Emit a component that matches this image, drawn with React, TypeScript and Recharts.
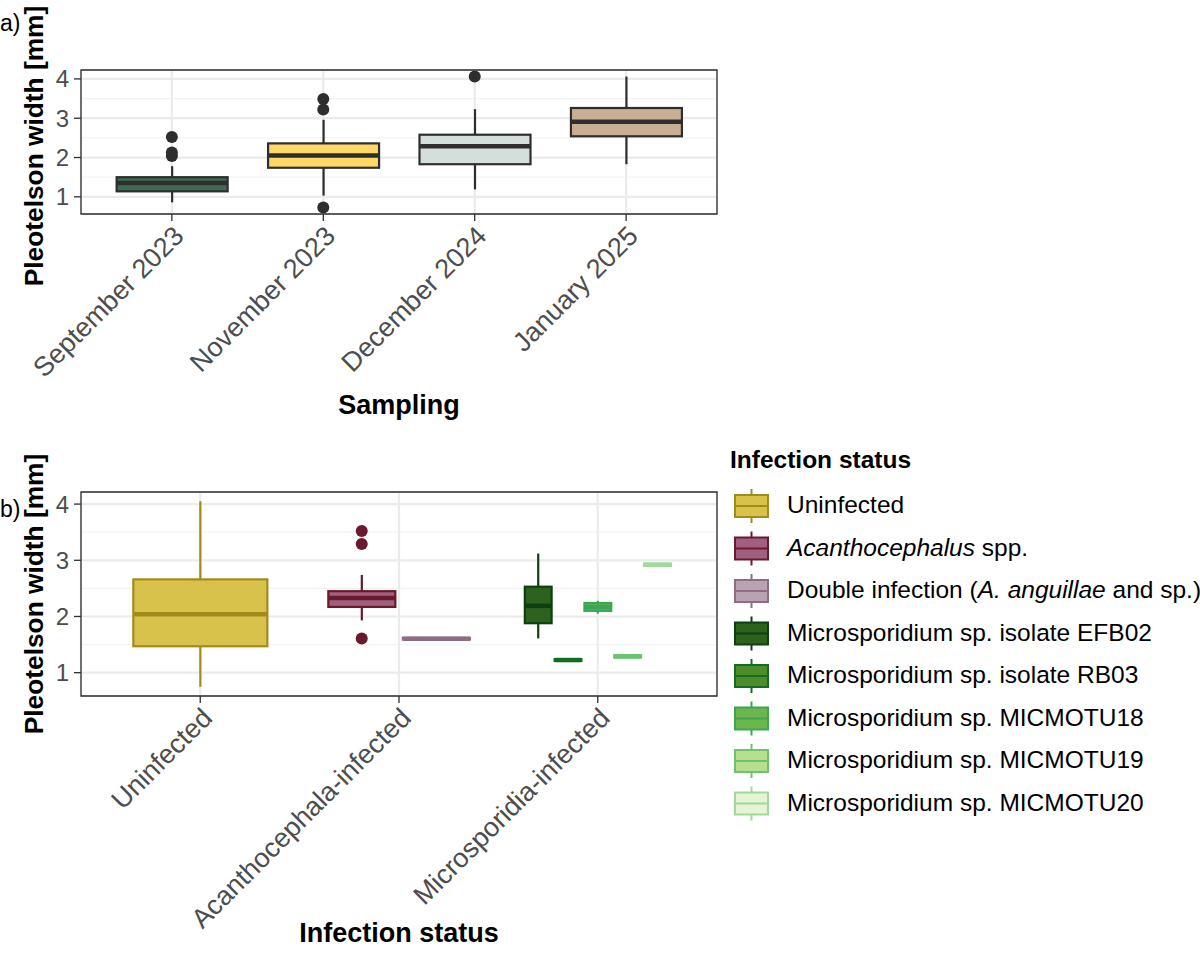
import React from "react";
import {
  ComposedChart,
  Bar,
  Scatter,
  XAxis,
  YAxis,
  CartesianGrid,
  ReferenceArea,
} from "recharts";

// panel a) – pleotelson width per sampling campaign
const SAMPLINGS = ["September 2023", "November 2023", "December 2024", "January 2025"];
// lower whisker, Q1, median, Q3, upper whisker (mm)
const SAMPLING_BOXES = [
  [0.86, 1.14, 1.35, 1.5, 1.78],
  [1.03, 1.74, 2.05, 2.36, 2.96],
  [1.19, 1.83, 2.29, 2.58, 3.23],
  [1.83, 2.54, 2.91, 3.26, 4.06],
];
const SAMPLING_OUTLIERS = [[2.04, 2.13, 2.52], [0.73, 3.22, 3.49], [4.06], []];

// panel b) – pleotelson width per infection status
const STATUSES = ["Uninfected", "Acanthocephala-infected", "Microsporidia-infected"];
const GROUPS = [
  "Uninfected",
  "Acanthocephalus spp.",
  "Double infection (A. anguillae and sp.)",
  "Microsporidium sp. isolate EFB02",
  "Microsporidium sp. isolate RB03",
  "Microsporidium sp. MICMOTU18",
  "Microsporidium sp. MICMOTU19",
  "Microsporidium sp. MICMOTU20",
];
const GROUP_STATUS = [0, 1, 1, 2, 2, 2, 2, 2];
const GROUP_BOXES = [
  [0.75, 1.47, 2.04, 2.66, 4.05],
  [1.93, 2.17, 2.33, 2.45, 2.74],
  [1.59, 1.59, 1.605, 1.62, 1.62],
  [1.61, 1.88, 2.19, 2.53, 3.12],
  [1.21, 1.21, 1.225, 1.24, 1.24],
  [2.05, 2.1, 2.17, 2.24, 2.28],
  [1.27, 1.27, 1.29, 1.31, 1.31],
  [2.9, 2.9, 2.92, 2.94, 2.94],
];
const GROUP_OUTLIERS = [[], [1.61, 3.29, 3.52], [], [], [], [], [], []];

const Y_TICKS = [1, 2, 3, 4];
const Y_MINOR = [1.5, 2.5, 3.5];

// styles
const SAMPLING_FILLS = ["#3E6B53", "#FDD865", "#D4DFDC", "#C9AE96"];
const GROUP_FILLS = ["#D8C24B", "#A0607F", "#B9A2B1", "#2C611E", "#4C8E2B", "#6DB64E", "#B7DF8E", "#E6F4D3"];
const GROUP_LINES = ["#A38B1B", "#6A1A2C", "#8E6D82", "#0E3F12", "#136B25", "#3AA757", "#6CC26F", "#A0D99A"];
const ITALIC = ["Acanthocephalus", "A. anguillae"];
const FONT = "'Liberation Sans', Arial, sans-serif";
const DARK = "#2E2E2E";
const DODGE = 0.75;
const TOP_BOX_W = 111;
const GROUP_SLOT_W = 134;

const toRow = (s: number[], pos: number, idx: number, n = 1) => ({
  pos, idx, n, lo: s[0], q1: s[1], med: s[2], q3: s[3], hi: s[4],
});

// ggplot-like dodge inside a status category
function dodge(g: number) {
  const st = GROUP_STATUS[g];
  const members = GROUP_STATUS.map((s, i) => (s === st ? i : -1)).filter((i) => i >= 0);
  const n = members.length;
  const k = members.indexOf(g);
  return { pos: st + 1 - DODGE / 2 + ((k + 0.5) * DODGE) / n, n };
}

const topRows = SAMPLING_BOXES.map((s, i) => toRow(s, i + 1, i));
const topOutliers = SAMPLING_OUTLIERS.flatMap((vals, i) =>
  vals.map((value) => ({ pos: i + 1, value, idx: i }))
);
const botRows = GROUP_BOXES.map((s, g) => {
  const d = dodge(g);
  return toRow(s, d.pos, g, d.n);
});
const botOutliers = GROUP_OUTLIERS.flatMap((vals, g) =>
  vals.map((value) => ({ pos: dodge(g).pos, value, idx: g }))
);

function padDomain(vals: number[]): [number, number] {
  const lo = Math.min(...vals);
  const hi = Math.max(...vals);
  const pad = (hi - lo) * 0.05;
  return [lo - pad, hi + pad];
}

// box drawn from the range bar [lo, hi] that recharts places for us
function drawBox(p: any, w: number, fill: string, line: string) {
  const { x, y, width, height, payload: d } = p;
  const span = d.hi - d.lo;
  const yOf = (v: number) => (span === 0 ? y : y + height - ((v - d.lo) / span) * height);
  const cx = x + width / 2;
  const l = cx - w / 2;
  return (
    <g>
      <line x1={cx} x2={cx} y1={yOf(d.hi)} y2={yOf(d.q3)} stroke={line} strokeWidth={2.2} />
      <line x1={cx} x2={cx} y1={yOf(d.q1)} y2={yOf(d.lo)} stroke={line} strokeWidth={2.2} />
      <rect x={l} y={yOf(d.q3)} width={w} height={Math.max(yOf(d.q1) - yOf(d.q3), 0)}
        fill={fill} stroke={line} strokeWidth={2.2} />
      <line x1={l} x2={l + w} y1={yOf(d.med)} y2={yOf(d.med)} stroke={line} strokeWidth={4.5} />
    </g>
  );
}

function SlantTick(props: any) {
  const { x, y, payload, names } = props;
  return (
    <text x={x} y={y} dy="0.71em" textAnchor="end" transform={`rotate(-45 ${x} ${y})`}
      fontSize={27} fill="#4D4D4D">
      {names[payload.value - 1]}
    </text>
  );
}

function BoxPanel(props: any) {
  const { rows, outliers, cats, height, top, axisH, title, titleOffset, boxW, fillOf, lineOf } = props;
  const [yMin, yMax] = padDomain([
    ...rows.flatMap((r: any) => [r.lo, r.hi]),
    ...outliers.map((o: any) => o.value),
  ]);
  const xDomain = [0.4, cats.length + 0.6];
  const ticks = cats.map((_: string, i: number) => i + 1);
  return (
    <ComposedChart width={720} height={height} data={rows} margin={{ top, right: 3, bottom: 0, left: 0 }}>
      <CartesianGrid horizontalValues={Y_MINOR} vertical={false} stroke="#F3F3F3" strokeWidth={1.2} />
      <CartesianGrid stroke="#EBEBEB" strokeWidth={2.2} />
      <XAxis
        type="number"
        dataKey="pos"
        domain={xDomain}
        ticks={ticks}
        interval={0}
        height={axisH}
        tickSize={7}
        tickMargin={3}
        axisLine={false}
        tickLine={{ stroke: DARK, strokeWidth: 1.3 }}
        tick={<SlantTick names={cats} />}
        label={{ value: title, position: "insideBottom", offset: titleOffset, fill: "#000", fontSize: 27, fontWeight: 700 }}
      />
      <YAxis
        type="number"
        domain={[yMin, yMax]}
        ticks={Y_TICKS}
        width={81}
        tickSize={7}
        tickMargin={5}
        axisLine={false}
        tickLine={{ stroke: DARK, strokeWidth: 1.3 }}
        tick={{ fill: "#4D4D4D", fontSize: 24 }}
        allowDataOverflow
      />
      <Bar
        dataKey={(r: any) => [r.lo, r.hi]}
        barSize={2}
        isAnimationActive={false}
        shape={(p: any) => drawBox(p, boxW(p.payload), fillOf(p.payload.idx), lineOf(p.payload.idx))}
      />
      <Scatter
        data={outliers}
        dataKey="value"
        isAnimationActive={false}
        shape={(p: any) => <circle cx={p.cx} cy={p.cy} r={6} fill={lineOf(p.payload.idx)} />}
      />
      <ReferenceArea x1={xDomain[0]} x2={xDomain[1]} y1={yMin} y2={yMax}
        fill="none" stroke={DARK} strokeWidth={1.3} ifOverflow="visible" />
    </ComposedChart>
  );
}

function rich(s: string) {
  const term = ITALIC.find((t) => s.includes(t));
  if (!term) return s;
  const [a, b] = s.split(term);
  return (
    <>
      {a}
      <tspan fontStyle="italic">{term}</tspan>
      {b}
    </>
  );
}

export default function App() {
  return (
    <div style={{ position: "absolute", left: 0, top: 0, width: 1200, height: 968, background: "#fff", fontFamily: FONT }}>
      <div style={{ position: "absolute", left: 0, top: 0 }}>
        <BoxPanel
          rows={topRows}
          outliers={topOutliers}
          cats={SAMPLINGS}
          height={430}
          top={70}
          axisH={216}
          title="Sampling"
          titleOffset={16}
          boxW={() => TOP_BOX_W}
          fillOf={(i: number) => SAMPLING_FILLS[i]}
          lineOf={() => DARK}
        />
      </div>
      <div style={{ position: "absolute", left: 0, top: 440 }}>
        <BoxPanel
          rows={botRows}
          outliers={botOutliers}
          cats={STATUSES}
          height={528}
          top={52}
          axisH={272}
          title="Infection status"
          titleOffset={26}
          boxW={(r: any) => GROUP_SLOT_W / r.n}
          fillOf={(i: number) => GROUP_FILLS[i]}
          lineOf={(i: number) => GROUP_LINES[i]}
        />
      </div>
      <svg width={1200} height={968} style={{ position: "absolute", left: 0, top: 0, pointerEvents: "none" }}>
        <text x={0} y={31} fontSize={23}>a)</text>
        <text x={0} y={517} fontSize={23}>b)</text>
        {[146, 594].map((cy) => (
          <text key={cy} x={34} y={cy} dy="0.35em" textAnchor="middle" fontSize={26.3} fontWeight={700}
            transform={`rotate(-90 34 ${cy})`}>
            Pleotelson width [mm]
          </text>
        ))}
        <text x={730} y={468} fontSize={24.5} fontWeight={700}>Infection status</text>
        {GROUPS.map((name, i) => {
          const cy = 506 + i * 42.5;
          return (
            <g key={name}>
              <line x1={751.5} x2={751.5} y1={cy - 17} y2={cy + 17} stroke={GROUP_LINES[i]} strokeWidth={2} />
              <rect x={735} y={cy - 11} width={33} height={22} fill={GROUP_FILLS[i]} stroke={GROUP_LINES[i]} strokeWidth={2} />
              <line x1={735} x2={768} y1={cy} y2={cy} stroke={GROUP_LINES[i]} strokeWidth={2} />
              <text x={787} y={cy + 7} fontSize={24.5} xmlSpace="preserve">{rich(name)}</text>
            </g>
          );
        })}
      </svg>
    </div>
  );
}
